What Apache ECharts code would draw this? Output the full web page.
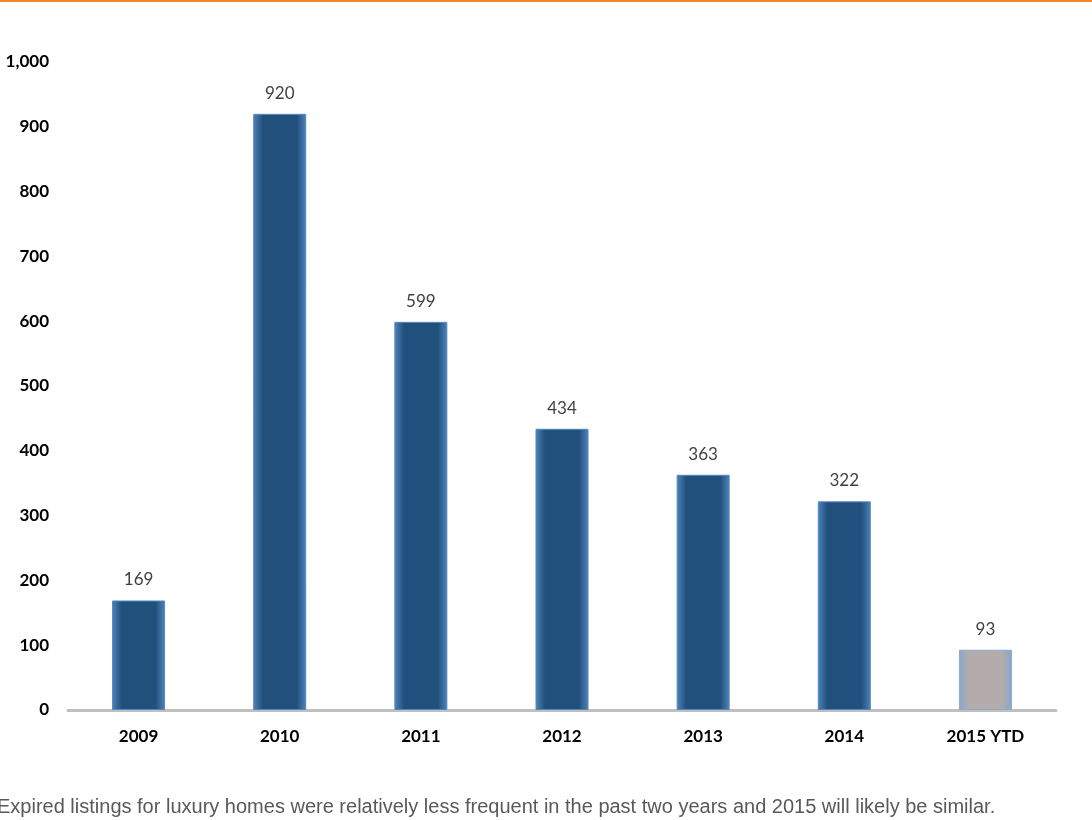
<!DOCTYPE html>
<html>
<head>
<meta charset="utf-8">
<script src="https://cdn.jsdelivr.net/npm/echarts@6/dist/echarts.min.js"></script>
<style>html,body{margin:0;padding:0;background:#fff}#c{width:1092px;height:820px}</style>
</head>
<body>
<div id="c"></div>
<script>
const categories = ['2009', '2010', '2011', '2012', '2013', '2014', '2015 YTD'];
const values = [169, 920, 599, 434, 363, 322, 93];
const partialYear = [false, false, false, false, false, false, true];
const caption = 'Expired listings for luxury homes were relatively less frequent in the past two years and 2015 will likely be similar.';

function grad(edge, mid) {
  return new echarts.graphic.LinearGradient(0, 0, 1, 0, [
    { offset: 0, color: edge },
    { offset: 0.18, color: mid },
    { offset: 0.82, color: mid },
    { offset: 1, color: edge }
  ]);
}

const chart = echarts.init(document.getElementById('c'));
chart.setOption({
  animation: false,
  backgroundColor: '#ffffff',
  grid: { left: 68, right: 36, top: 62, bottom: 110 },
  xAxis: {
    type: 'category',
    data: categories,
    axisLine: { lineStyle: { color: '#bfbfbf', width: 3 } },
    axisTick: { show: false },
    axisLabel: { margin: 18, fontFamily: 'Lato', fontWeight: 'bold', fontSize: 17, color: '#000' }
  },
  yAxis: {
    type: 'value',
    min: 0, max: 1000, interval: 100,
    axisLine: { show: false },
    axisTick: { show: false },
    splitLine: { show: false },
    axisLabel: {
      margin: 19, fontFamily: 'Lato', fontWeight: 'bold', fontSize: 17, color: '#000',
      formatter: v => v.toLocaleString('en-US')
    }
  },
  series: [{
    type: 'bar',
    barWidth: 53,
    data: values.map((v, i) => ({
      value: v,
      itemStyle: partialYear[i]
        ? { color: grad('#86a6cf', '#b3acab'), borderColor: '#8aaad2', borderWidth: 1 }
        : { color: grad('#4f83b9', '#22507d'), borderColor: '#5288be', borderWidth: 1 }
    })),
    label: {
      show: true, position: 'top', distance: 12,
      fontFamily: 'Lato', fontSize: 17, color: '#404040'
    }
  }],
  graphic: [
    { type: 'rect', left: 0, top: 0, shape: { width: 1092, height: 2 }, style: { fill: '#f08a24' } },
    { type: 'text', left: -3, top: 797, style: { text: caption, font: '20px "Liberation Sans", Arial, sans-serif', fill: '#595959' } }
  ]
});
</script>
</body>
</html>
